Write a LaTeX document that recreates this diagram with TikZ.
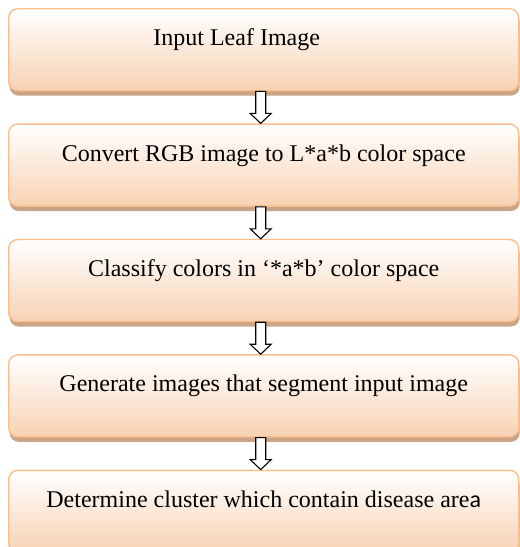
\documentclass[tikz,border=0pt]{standalone}
\usepackage{fontspec}
\setmainfont{Liberation Serif}
\newfontfamily\carlito{Carlito}
\usetikzlibrary{positioning,shadows,calc}
\definecolor{peach}{HTML}{F8D2B3}
\definecolor{peachline}{HTML}{F9BE8C}
\definecolor{peachshadow}{HTML}{C9A487}
\tikzset{
  stepbox/.style={draw=peachline, line width=1.4pt, rounded corners=9pt,
    top color=white, bottom color=peach, minimum width=510pt,
    inner xsep=0pt, inner ysep=0pt, text height=37pt, text depth=45pt,
    font=\fontsize{24}{28}\selectfont,
    drop shadow={shadow xshift=1pt, shadow yshift=-5pt, fill=peachshadow, opacity=1}},
  hollow/.style={draw=black, fill=white, line width=1.1pt, line join=miter}
}
\begin{document}
\begin{tikzpicture}[x=1pt,y=1pt]
    \useasboundingbox (0,0) rectangle (520,-547);
    % Steps
    \node[stepbox, anchor=north west] (input) at (8,-8) {Input Leaf Image\hspace*{54pt}};
    \node[stepbox, below=32pt of input] (convert) {Convert RGB image to L*a*b color space};
    \node[stepbox, below=32pt of convert] (classify) {Classify colors in ‘*a*b’ color space};
    \node[stepbox, below=32pt of classify] (segment) {Generate images that segment input image};
    \node[stepbox, below=32pt of segment] (cluster) {Determine cluster which contain disease are{\carlito a}};
    % Hollow arrows
    \foreach \a/\b in {input/convert, convert/classify, classify/segment, segment/cluster}
        \draw[hollow] ($(\a.south)+(-8,0)$) -- ($(\b.north)+(-8,10)$) -- ++(-5.5,0)
            -- ($(\b.north)+(-3,0)$) -- ($(\b.north)+(7.5,10)$) -- ++(-5.5,0)
            -- ($(\a.south)+(2,0)$) -- cycle;
\end{tikzpicture}
\end{document}
